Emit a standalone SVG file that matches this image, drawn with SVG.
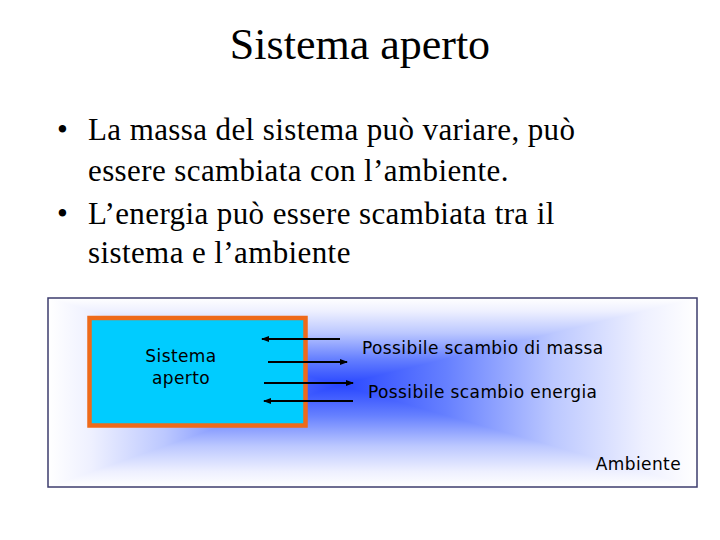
<svg xmlns="http://www.w3.org/2000/svg" width="720" height="540" viewBox="0 0 720 540">
<style>
.title{font-family:"Liberation Serif","Times New Roman",serif;font-size:44px;fill:#000}
.bul{font-family:"Liberation Serif","Times New Roman",serif;font-size:31px;letter-spacing:0.4px;fill:#000}
.lbl{font-family:"DejaVu Sans",Verdana,sans-serif;font-size:17px;letter-spacing:0.4px;fill:#000}
.arr{stroke:#000;stroke-width:2;fill:none;marker-end:url(#ah)}
.g{shape-rendering:crispEdges}
</style>
<defs>
<marker id="ah" markerWidth="8" markerHeight="6" refX="7" refY="3" orient="auto" markerUnits="userSpaceOnUse">
<path d="M0,0 L8,3 L0,6 Z" fill="#000"/>
</marker>
<linearGradient id="gT" gradientUnits="userSpaceOnUse" x1="0" y1="385" x2="0" y2="298"><stop offset="0" stop-color="#2846ff"/><stop offset="0.3" stop-color="#6680ff"/><stop offset="0.6" stop-color="#bcc8ff"/><stop offset="0.85" stop-color="#eef0ff"/><stop offset="1" stop-color="#ffffff"/></linearGradient>
<linearGradient id="gB" href="#gT" gradientUnits="userSpaceOnUse" x1="0" y1="385" x2="0" y2="487"/>
<linearGradient id="gL" href="#gT" gradientUnits="userSpaceOnUse" x1="339" y1="0" x2="48" y2="0"/>
<linearGradient id="gR" href="#gT" gradientUnits="userSpaceOnUse" x1="339" y1="0" x2="697" y2="0"/>
</defs>
<rect width="720" height="540" fill="#fff"/>
<text class="title" x="360" y="59" text-anchor="middle">Sistema aperto</text>
<g id="bullets">
<text class="bul" x="57" y="140">•</text>
<text class="bul" x="88" y="140">La massa del sistema può variare, può</text>
<text class="bul" x="88" y="181">essere scambiata con l’ambiente.</text>
<text class="bul" x="57" y="224">•</text>
<text class="bul" x="88" y="224">L’energia può essere scambiata tra il</text>
<text class="bul" x="88" y="263">sistema e l’ambiente</text>
</g>
<g id="ambiente">
<polygon class="g" points="339,385 48,298 697,298" fill="url(#gT)"/>
<polygon class="g" points="339,385 48,487 697,487" fill="url(#gB)"/>
<polygon class="g" points="339,385 48,298 48,487" fill="url(#gL)"/>
<polygon class="g" points="339,385 697,298 697,487" fill="url(#gR)"/>
<rect x="48" y="298" width="649" height="189" fill="none" stroke="#3c3c6e" stroke-width="1.5"/>
<text class="lbl" x="681" y="470" text-anchor="end">Ambiente</text>
</g>
<g id="sistema">
<rect x="89.5" y="318" width="216" height="107.5" fill="#00ccff" stroke="#ee6a1a" stroke-width="4.5"/>
<text class="lbl" x="181" y="362" text-anchor="middle">Sistema</text>
<text class="lbl" x="181" y="384" text-anchor="middle">aperto</text>
</g>
<g id="connectors">
<line class="arr" x1="340" y1="339" x2="262" y2="339"/>
<line class="arr" x1="268" y1="362" x2="347" y2="362"/>
<line class="arr" x1="264" y1="383" x2="353" y2="383"/>
<line class="arr" x1="353" y1="401" x2="264" y2="401"/>
</g>
<g id="labels">
<text class="lbl" x="362" y="354">Possibile scambio di massa</text>
<text class="lbl" x="368" y="398">Possibile scambio energia</text>
</g>
</svg>
